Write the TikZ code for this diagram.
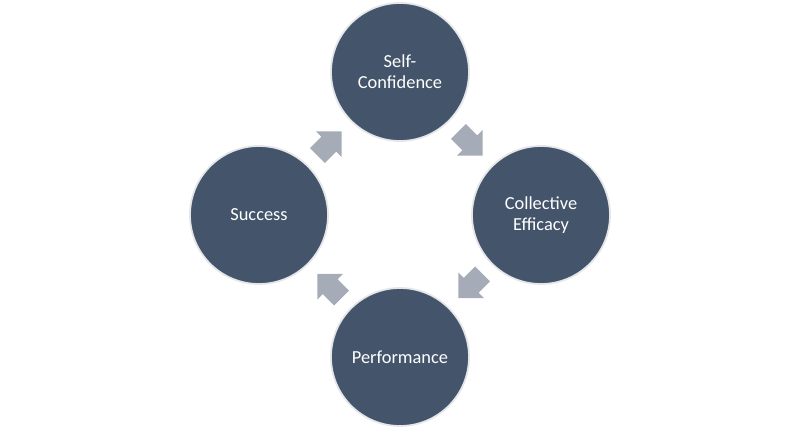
\documentclass[tikz,border=0pt]{standalone}
\usepackage{fontspec}
\setmainfont{Carlito}
\definecolor{slate}{HTML}{44546A}
\definecolor{ring}{HTML}{E4E6EA}
\definecolor{arrowgray}{HTML}{A5ACB7}
\begin{document}
\begin{tikzpicture}[x=0.03cm,y=0.03cm,every node/.style={font=\fontsize{15.7}{18}\selectfont},c/.style={circle,fill=slate,draw=ring,line width=1.5pt,minimum size=4.14cm,inner sep=0pt,text=white,align=center},blk/.pic={\fill[arrowgray] (-17,-10.5)--(-1,-10.5)--(-1,-18)--(17,0)--(-1,18)--(-1,10.5)--(-17,10.5)--cycle;}]
\useasboundingbox (0,0) rectangle (801,434);
\node[c] (self) at (400,362) {Self-\\Confidence};
\node[c] (coll) at (541,219) {Collective\\Efficacy};
\node[c] (perf) at (400,77) {Performance};
\node[c] (succ) at (259,219) {Success};
\path (succ)--coordinate[midway] (a1) (self);
\path (self)--coordinate[midway] (a2) (coll);
\path (coll)--coordinate[midway] (a3) (perf);
\path (perf)--coordinate[midway] (a4) (succ);
\pic[rotate=45] at (a1) {blk};
\pic[rotate=-45] at (a2) {blk};
\pic[rotate=-135] at (a3) {blk};
\pic[rotate=135] at (a4) {blk};
\end{tikzpicture}
\end{document}
